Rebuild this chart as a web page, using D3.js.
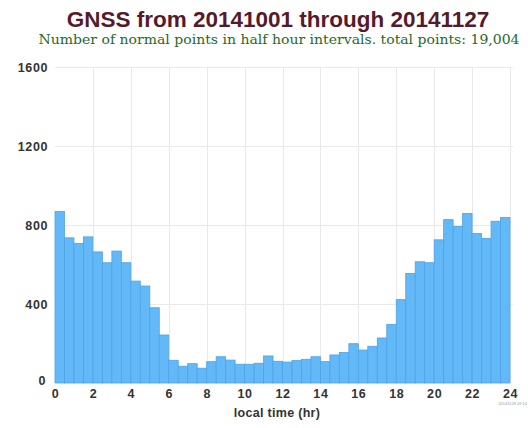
<!DOCTYPE html>
<html>
<head>
<meta charset="utf-8">
<script src="https://cdn.jsdelivr.net/npm/d3@7"></script>
<style>
  html, body { margin: 0; padding: 0; background: #fff; }
  svg { display: block; }
</style>
</head>
<body>
<svg id="chart" width="528" height="428"></svg>
<script>
// Half-hour bin start times (local hours) and counts of normal points per bin
const binStarts = d3.range(0, 24, 0.5);
const counts = [
  868, 735, 707, 740, 664, 609, 668, 609, 516, 491, 381, 243,
  115, 85, 98, 75, 108, 133, 116, 95, 95, 100, 137, 110,
  106, 114, 120, 133, 108, 142, 155, 199, 167, 186, 228, 296,
  422, 555, 614, 609, 725, 827, 793, 858, 757, 732, 819, 838
];
const xTicks = [0, 2, 4, 6, 8, 10, 12, 14, 16, 18, 20, 22, 24];
const yTicks = [0, 400, 800, 1200, 1600];
const titleText = "GNSS from 20141001 through 20141127";
const subtitleText = "Number of normal points in half hour intervals. total points: 19,004";
const xAxisTitle = "local time (hr)";
const stampText = "20141128 09:14";

const svg = d3.select("#chart");
const plot = { left: 55, right: 510, top: 67, bottom: 383 };

const x = d3.scaleLinear().domain([0, 24]).range([plot.left, plot.right]);
const y = d3.scaleLinear().domain([0, 1600]).range([plot.bottom, plot.top]);

// Gridlines
const grid = svg.append("g").attr("stroke", "#e9e9e9").attr("stroke-width", 1);
grid.selectAll("line.h").data(yTicks.filter(d => d > 0)).join("line")
  .attr("x1", plot.left).attr("x2", plot.right + 3)
  .attr("y1", d => Math.round(y(d)) + 0.5).attr("y2", d => Math.round(y(d)) + 0.5);
grid.selectAll("line.v").data(xTicks.filter(d => d > 0)).join("line")
  .attr("x1", d => Math.round(x(d)) + 0.5).attr("x2", d => Math.round(x(d)) + 0.5)
  .attr("y1", plot.top).attr("y2", plot.bottom);

// Bars
svg.append("g").selectAll("rect").data(counts).join("rect")
  .attr("x", (d, i) => x(binStarts[i]))
  .attr("width", (d, i) => x(binStarts[i] + 0.5) - x(binStarts[i]))
  .attr("y", d => y(d))
  .attr("height", d => y(0) - y(d))
  .attr("fill", "#63b9f7")
  .attr("stroke", "#4ea3e6")
  .attr("stroke-width", 0.8);

const labelFont = "Liberation Sans, Arial, sans-serif";

// Axes (labels only)
const xAxis = svg.append("g")
  .attr("transform", `translate(0,${plot.bottom})`)
  .call(d3.axisBottom(x).tickValues(xTicks).tickSize(0).tickPadding(6).tickFormat(d3.format("d")));
xAxis.select(".domain").remove();
xAxis.selectAll("text")
  .attr("font-family", labelFont)
  .attr("font-weight", "bold").attr("font-size", 12.5)
  .attr("letter-spacing", 0.6).attr("fill", "#333");

const yAxis = svg.append("g")
  .attr("transform", `translate(${plot.left},0)`)
  .call(d3.axisLeft(y).tickValues(yTicks).tickSize(0).tickPadding(7).tickFormat(d3.format("d")));
yAxis.select(".domain").remove();
yAxis.selectAll("text")
  .attr("font-family", labelFont)
  .attr("font-weight", "bold").attr("font-size", 12.5)
  .attr("letter-spacing", 0.6).attr("fill", "#333");
yAxis.selectAll(".tick").filter(d => d === 0).select("text").attr("dy", "0.1em").attr("x", -9);

// Titles
svg.append("text")
  .attr("x", 278).attr("y", 27)
  .attr("text-anchor", "middle")
  .attr("font-family", labelFont)
  .attr("font-weight", "bold").attr("font-size", 22.5)
  .attr("fill", "#561a2a")
  .text(titleText);

svg.append("text")
  .attr("x", 279).attr("y", 44)
  .attr("text-anchor", "middle")
  .attr("font-family", "DejaVu Serif, Liberation Serif, serif")
  .attr("font-size", 12.5)
  .attr("fill", "#27692c")
  .attr("textLength", 481).attr("lengthAdjust", "spacingAndGlyphs")
  .text(subtitleText);

svg.append("text")
  .attr("x", 277).attr("y", 417)
  .attr("text-anchor", "middle")
  .attr("font-family", labelFont)
  .attr("font-weight", "bold").attr("font-size", 12.5)
  .attr("letter-spacing", 0.3)
  .attr("fill", "#333")
  .text(xAxisTitle);

svg.append("text")
  .attr("x", 527).attr("y", 405)
  .attr("text-anchor", "end")
  .attr("font-family", labelFont)
  .attr("font-size", 4)
  .attr("fill", "#999")
  .text(stampText);
</script>
</body>
</html>
